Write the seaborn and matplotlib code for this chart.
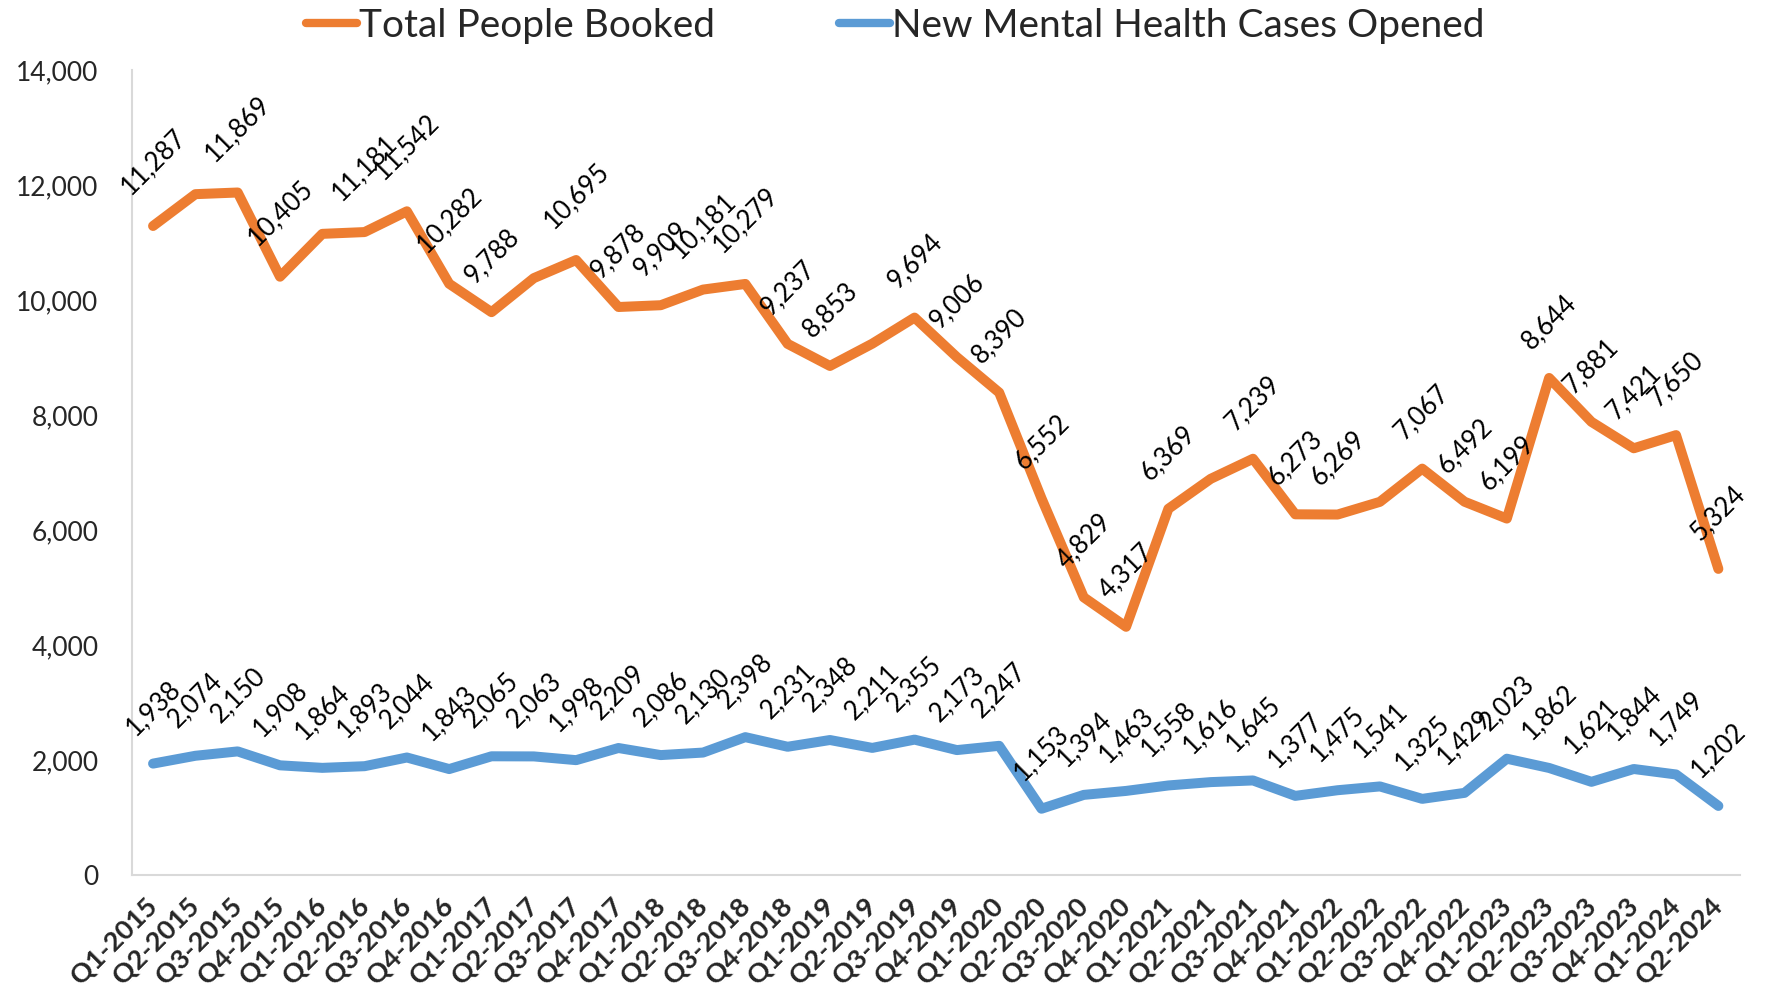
import matplotlib
matplotlib.use("Agg")
import matplotlib.pyplot as plt
import pandas as pd
import seaborn as sns
from matplotlib.lines import Line2D
from matplotlib.ticker import FuncFormatter

# ── data ──────────────────────────────────────────────────────────────────────
QUARTERS = [
    "Q1-2015", "Q2-2015", "Q3-2015", "Q4-2015",
    "Q1-2016", "Q2-2016", "Q3-2016", "Q4-2016",
    "Q1-2017", "Q2-2017", "Q3-2017", "Q4-2017",
    "Q1-2018", "Q2-2018", "Q3-2018", "Q4-2018",
    "Q1-2019", "Q2-2019", "Q3-2019", "Q4-2019",
    "Q1-2020", "Q2-2020", "Q3-2020", "Q4-2020",
    "Q1-2021", "Q2-2021", "Q3-2021", "Q4-2021",
    "Q1-2022", "Q2-2022", "Q3-2022", "Q4-2022",
    "Q1-2023", "Q2-2023", "Q3-2023", "Q4-2023",
    "Q1-2024", "Q2-2024",
]

BOOKED = [
    11287, 11840, 11869, 10405,
    11150, 11181, 11542, 10282,
    9788, 10380, 10695, 9878,
    9909, 10181, 10279, 9237,
    8853, 9240, 9694, 9006,
    8390, 6552, 4829, 4317,
    6369, 6890, 7239, 6273,
    6269, 6490, 7067, 6492,
    6199, 8644, 7881, 7421,
    7650, 5324,
]

MH_CASES = [
    1938, 2074, 2150, 1908,
    1864, 1893, 2044, 1843,
    2065, 2063, 1998, 2209,
    2086, 2130, 2398, 2231,
    2348, 2211, 2355, 2173,
    2247, 1153, 1394, 1463,
    1558, 1616, 1645, 1377,
    1475, 1541, 1325, 1429,
    2023, 1862, 1621, 1844,
    1749, 1202,
]

# quarters whose "Total People Booked" point carries no data label in the original
BOOKED_UNLABELED = ["Q2-2015", "Q1-2016", "Q2-2017", "Q2-2019", "Q2-2021", "Q2-2022"]

SERIES_BOOKED = "Total People Booked"
SERIES_MH     = "New Mental Health Cases Opened"
COLORS = {SERIES_BOOKED: "#ED7D31", SERIES_MH: "#5B9BD5"}


# ── plot ──────────────────────────────────────────────────────────────────────
sns.set_theme(style="white")
plt.rcParams["font.family"] = ["Lato", "DejaVu Sans"]

df = pd.DataFrame({"quarter": QUARTERS, SERIES_BOOKED: BOOKED, SERIES_MH: MH_CASES})
long = df.melt(id_vars="quarter", var_name="series", value_name="count")

fig = plt.figure(figsize=(17.66, 9.98), dpi=100)
ax = fig.add_axes([0.0747, 0.1232, 0.9103, 0.8067])

sns.lineplot(
    data=long, x="quarter", y="count", hue="series",
    palette=COLORS, linewidth=7.2, sort=False, ax=ax, legend=False,
)
for line in ax.lines:
    line.set_solid_capstyle("round")
    line.set_solid_joinstyle("round")

# data labels, rotated like the original
def add_labels(values, skip=()):
    for i, (q, v) in enumerate(zip(QUARTERS, values)):
        if q in skip:
            continue
        txt = f"{v:,}"
        ax.annotate(
            txt, (i, v), xytext=(0, 11 + 5.9 * len(txt)),
            textcoords="offset points", rotation=45,
            ha="center", va="center", rotation_mode="anchor",
            fontsize=18.5, color="black",
        )

add_labels(BOOKED, skip=BOOKED_UNLABELED)
add_labels(MH_CASES)

# axes styling
ax.set_xlim(-0.5, len(QUARTERS) - 0.5)
ax.set_ylim(0, 14000)
ax.set_yticks(range(0, 14001, 2000))
ax.yaxis.set_major_formatter(FuncFormatter(lambda v, _: f"{int(v):,}"))
ax.set_xlabel("")
ax.set_ylabel("")
ax.set_xticks(range(len(QUARTERS)))
ax.set_xticklabels(QUARTERS, rotation=45, ha="right", va="center",
                   rotation_mode="anchor", fontweight="bold", fontsize=19.5)
ax.tick_params(axis="x", length=0, pad=19)
ax.tick_params(axis="y", length=0, pad=24, labelsize=19)

for side in ["top", "right"]:
    ax.spines[side].set_visible(False)
for side in ["left", "bottom"]:
    ax.spines[side].set_color("#d9d9d9")
    ax.spines[side].set_linewidth(1.5)
ax.grid(False)

handles = [Line2D([0], [0], color=COLORS[s], lw=6, solid_capstyle="round")
           for s in [SERIES_BOOKED, SERIES_MH]]
fig.legend(handles, [SERIES_BOOKED, SERIES_MH], loc="center",
           bbox_to_anchor=(0.507, 0.974), ncol=2, frameon=False,
           fontsize=28, handlelength=1.3, handletextpad=0.05,
           columnspacing=3.2)

fig.savefig("out.png", dpi=100)
